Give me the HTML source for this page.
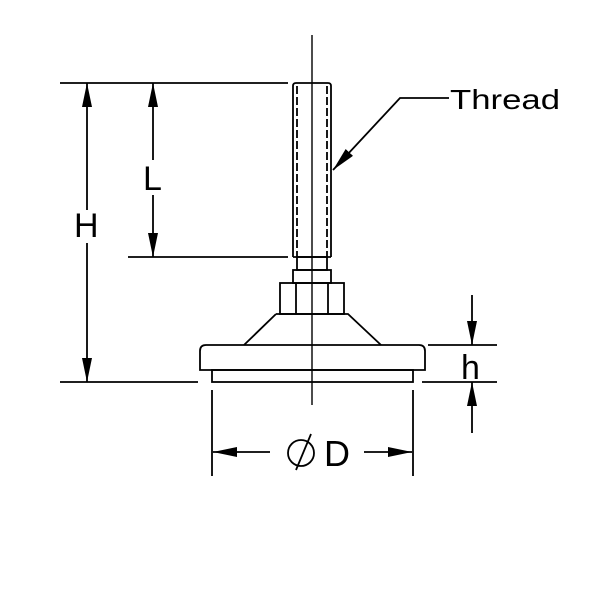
<!DOCTYPE html>
<html><head><style>body{margin:0;background:#fff}svg{display:block}</style></head><body>
<svg width="600" height="600" viewBox="0 0 600 600" xmlns="http://www.w3.org/2000/svg">
<defs>
<marker id="a" viewBox="0 0 24 10" refX="24" refY="5" markerWidth="24" markerHeight="10" markerUnits="userSpaceOnUse" orient="auto"><path d="M0,0 L24,5 L0,10 Z" fill="#000"/></marker>
</defs>
<g stroke="#000" stroke-width="1.8" fill="none">
<line x1="312" y1="35" x2="312" y2="405" stroke-width="1.4"/>
<path d="M293,257 V86 Q293,83 296,83 H328 Q331,83 331,86 V257"/>
<line x1="297" y1="86" x2="297" y2="257" stroke-dasharray="8,3"/>
<line x1="327" y1="86" x2="327" y2="257" stroke-dasharray="8,3"/>
<line x1="293" y1="257" x2="331" y2="257"/>
<rect x="297" y="257" width="30" height="13"/>
<rect x="293" y="270" width="38" height="13"/>
<rect x="280" y="283" width="64" height="31"/>
<line x1="296" y1="283" x2="296" y2="314"/>
<line x1="328" y1="283" x2="328" y2="314"/>
<path d="M276,314 H348 L381,345 M276,314 L244,345"/>
<path d="M200,370 V351 Q200,345 206,345 H419 Q425,345 425,351 V370 Z"/>
<rect x="212" y="370" width="201" height="12"/>
<line x1="60" y1="83" x2="288" y2="83"/>
<line x1="128" y1="257" x2="288" y2="257"/>
<line x1="60" y1="382" x2="198" y2="382"/>
<line x1="87" y1="210" x2="87" y2="83" marker-end="url(#a)"/>
<line x1="87" y1="243" x2="87" y2="382" marker-end="url(#a)"/>
<line x1="153" y1="160" x2="153" y2="83" marker-end="url(#a)"/>
<line x1="153" y1="195" x2="153" y2="257" marker-end="url(#a)"/>
<line x1="428" y1="345" x2="497" y2="345"/>
<line x1="422" y1="382" x2="497" y2="382"/>
<line x1="472" y1="295" x2="472" y2="345" marker-end="url(#a)"/>
<line x1="472" y1="433" x2="472" y2="382" marker-end="url(#a)"/>
<line x1="212" y1="390" x2="212" y2="476"/>
<line x1="413" y1="390" x2="413" y2="476"/>
<line x1="270" y1="452" x2="213" y2="452" marker-end="url(#a)"/>
<line x1="364" y1="452" x2="412" y2="452" marker-end="url(#a)"/>
<circle cx="301" cy="453" r="13"/>
<line x1="296" y1="470" x2="311" y2="434"/>
<polyline points="449,98 400,98 333,170" marker-end="url(#a)"/>
</g>
<g font-family="Liberation Sans, sans-serif" fill="#000">
<text x="450" y="109" font-size="28" textLength="110" lengthAdjust="spacingAndGlyphs">Thread</text>
<text x="74" y="237" font-size="34">H</text>
<text x="143" y="190" font-size="34">L</text>
<text x="461" y="379" font-size="34">h</text>
<text x="324" y="466" font-size="36">D</text>
</g>
</svg>
</body></html>
